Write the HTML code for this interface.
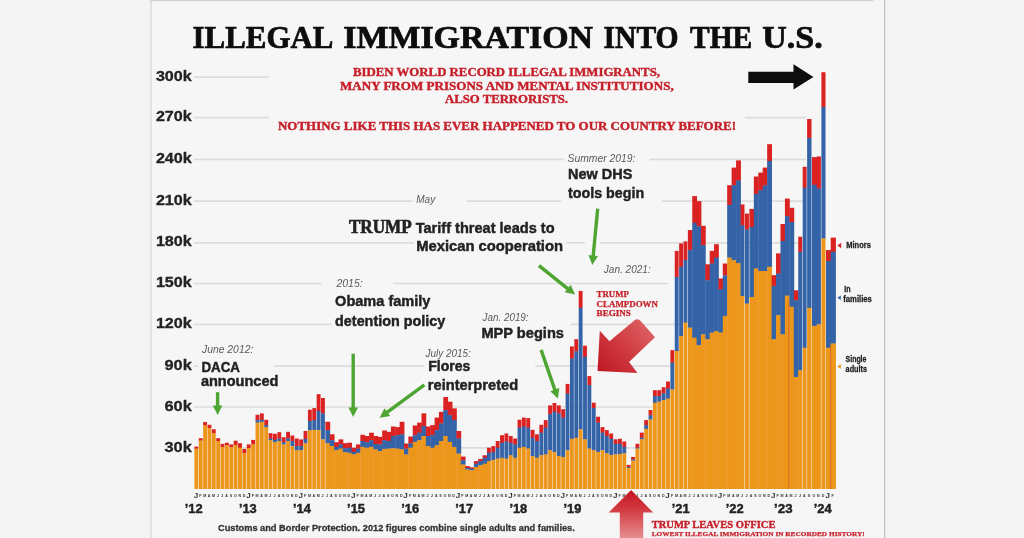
<!DOCTYPE html>
<html><head><meta charset="utf-8"><title>Illegal immigration into the U.S.</title>
<style>
html,body{margin:0;padding:0;background:#f4f4f4;}
body{width:1024px;height:538px;overflow:hidden;position:relative;font-family:"Liberation Sans",sans-serif;}
svg{position:absolute;left:0;top:0;display:block}
.ss{font-family:"Liberation Sans",sans-serif;}
.sf{font-family:"Liberation Serif",serif;}
.b{font-weight:bold}
.i{font-style:italic}
</style></head><body>
<svg width="1024" height="538" viewBox="0 0 1024 538">
<defs><filter id="soft" x="-20" y="-20" width="1064" height="578" filterUnits="userSpaceOnUse"><feGaussianBlur stdDeviation="0.55"/></filter></defs>
<g filter="url(#soft)">
<rect x="-20" y="-20" width="1064" height="578" fill="#f4f4f4"/>
<rect x="151" y="1" width="733" height="560" fill="#f6f6f6"/>
<rect x="150.1" y="-6" width="1.7" height="566" fill="#dedede"/>
<rect x="150" y="-6" width="723" height="7.2" fill="#d2d2d2"/>
<rect x="884" y="-20" width="1.2" height="580" fill="#c2c2c2"/>

<g id="grid" stroke="#dcdcdc" stroke-width="1.7">
<line x1="194" y1="77.2" x2="269" y2="77.2"/>
<line x1="194" y1="117.7" x2="269" y2="117.7"/>
<line x1="745" y1="117.7" x2="806" y2="117.7"/>
<line x1="194" y1="159.4" x2="564.3" y2="159.4"/>
<line x1="649.6" y1="159.4" x2="806" y2="159.4"/>
<line x1="194" y1="201.1" x2="412.4" y2="201.1"/>
<line x1="467" y1="201.1" x2="561" y2="201.1"/>
<line x1="662" y1="201.1" x2="806" y2="201.1"/>
<line x1="194" y1="242.8" x2="413.6" y2="242.8"/>
<line x1="566" y1="242.8" x2="585" y2="242.8"/>
<line x1="600" y1="242.8" x2="806" y2="242.8"/>
<line x1="194" y1="283.5" x2="321.7" y2="283.5"/>
<line x1="392.8" y1="283.5" x2="668" y2="283.5"/>
<line x1="194" y1="324.4" x2="331.7" y2="324.4"/>
<line x1="570.4" y1="324.4" x2="680" y2="324.4"/>
<line x1="194" y1="366.1" x2="198.5" y2="366.1"/>
<line x1="273.7" y1="366.1" x2="424.4" y2="366.1"/>
<line x1="535.3" y1="366.1" x2="676" y2="366.1"/>
<line x1="194" y1="407.0" x2="660" y2="407.0"/>
<line x1="194" y1="447.9" x2="660" y2="447.9"/>
</g>
<g id="bars" shape-rendering="auto">
<rect x="194.40" y="446.6" width="3.87" height="2.3" fill="#DB2020"/>
<rect x="194.40" y="448.6" width="3.87" height="40.4" fill="#EC971F"/>
<rect x="198.77" y="438.2" width="3.87" height="2.6" fill="#DB2020"/>
<rect x="198.77" y="440.5" width="3.87" height="48.5" fill="#EC971F"/>
<rect x="203.13" y="422.1" width="3.87" height="3.6" fill="#DB2020"/>
<rect x="203.13" y="425.5" width="3.87" height="63.5" fill="#EC971F"/>
<rect x="207.50" y="424.8" width="3.87" height="3.6" fill="#DB2020"/>
<rect x="207.50" y="428.2" width="3.87" height="60.8" fill="#EC971F"/>
<rect x="211.87" y="429.3" width="3.87" height="4.1" fill="#DB2020"/>
<rect x="211.87" y="433.2" width="3.87" height="55.8" fill="#EC971F"/>
<rect x="216.24" y="438.2" width="3.87" height="3.1" fill="#DB2020"/>
<rect x="216.24" y="441.0" width="3.87" height="48.0" fill="#EC971F"/>
<rect x="220.60" y="443.9" width="3.87" height="3.3" fill="#DB2020"/>
<rect x="220.60" y="446.9" width="3.87" height="42.1" fill="#EC971F"/>
<rect x="224.97" y="442.7" width="3.87" height="2.8" fill="#DB2020"/>
<rect x="224.97" y="445.2" width="3.87" height="43.8" fill="#EC971F"/>
<rect x="229.34" y="444.4" width="3.87" height="3.1" fill="#DB2020"/>
<rect x="229.34" y="447.2" width="3.87" height="41.8" fill="#EC971F"/>
<rect x="233.70" y="440.7" width="3.87" height="4.5" fill="#DB2020"/>
<rect x="233.70" y="444.9" width="3.87" height="44.1" fill="#EC971F"/>
<rect x="238.07" y="443.2" width="3.87" height="4.8" fill="#DB2020"/>
<rect x="238.07" y="447.7" width="3.87" height="41.3" fill="#EC971F"/>
<rect x="242.44" y="448.9" width="3.87" height="4.7" fill="#DB2020"/>
<rect x="242.44" y="453.3" width="3.87" height="35.7" fill="#EC971F"/>
<rect x="246.80" y="444.4" width="3.87" height="4.1" fill="#DB2020"/>
<rect x="246.80" y="448.2" width="3.87" height="40.8" fill="#EC971F"/>
<rect x="251.17" y="439.9" width="3.87" height="4.8" fill="#DB2020"/>
<rect x="251.17" y="444.4" width="3.87" height="44.6" fill="#EC971F"/>
<rect x="255.54" y="414.8" width="3.87" height="5.7" fill="#DB2020"/>
<rect x="255.54" y="420.1" width="3.87" height="2.8" fill="#3563A8"/>
<rect x="255.54" y="422.6" width="3.87" height="66.4" fill="#EC971F"/>
<rect x="259.90" y="413.4" width="3.87" height="6.7" fill="#DB2020"/>
<rect x="259.90" y="419.8" width="3.87" height="2.3" fill="#3563A8"/>
<rect x="259.90" y="421.8" width="3.87" height="67.2" fill="#EC971F"/>
<rect x="264.27" y="419.8" width="3.87" height="5.7" fill="#DB2020"/>
<rect x="264.27" y="425.1" width="3.87" height="2.3" fill="#3563A8"/>
<rect x="264.27" y="427.1" width="3.87" height="61.9" fill="#EC971F"/>
<rect x="268.64" y="433.2" width="3.87" height="5.7" fill="#DB2020"/>
<rect x="268.64" y="438.5" width="3.87" height="2.0" fill="#3563A8"/>
<rect x="268.64" y="440.2" width="3.87" height="48.8" fill="#EC971F"/>
<rect x="273.01" y="433.8" width="3.87" height="6.3" fill="#DB2020"/>
<rect x="273.01" y="439.9" width="3.87" height="2.6" fill="#3563A8"/>
<rect x="273.01" y="442.2" width="3.87" height="46.8" fill="#EC971F"/>
<rect x="277.37" y="432.2" width="3.87" height="6.7" fill="#DB2020"/>
<rect x="277.37" y="438.5" width="3.87" height="2.8" fill="#3563A8"/>
<rect x="277.37" y="441.0" width="3.87" height="48.0" fill="#EC971F"/>
<rect x="281.74" y="437.2" width="3.87" height="5.3" fill="#DB2020"/>
<rect x="281.74" y="442.2" width="3.87" height="2.5" fill="#3563A8"/>
<rect x="281.74" y="444.4" width="3.87" height="44.6" fill="#EC971F"/>
<rect x="286.11" y="431.8" width="3.87" height="7.0" fill="#DB2020"/>
<rect x="286.11" y="438.5" width="3.87" height="2.8" fill="#3563A8"/>
<rect x="286.11" y="441.0" width="3.87" height="48.0" fill="#EC971F"/>
<rect x="290.47" y="435.5" width="3.87" height="5.8" fill="#DB2020"/>
<rect x="290.47" y="441.0" width="3.87" height="5.3" fill="#3563A8"/>
<rect x="290.47" y="446.1" width="3.87" height="42.9" fill="#EC971F"/>
<rect x="294.84" y="438.5" width="3.87" height="7.8" fill="#DB2020"/>
<rect x="294.84" y="446.1" width="3.87" height="4.5" fill="#3563A8"/>
<rect x="294.84" y="450.2" width="3.87" height="38.8" fill="#EC971F"/>
<rect x="299.21" y="439.4" width="3.87" height="7.0" fill="#DB2020"/>
<rect x="299.21" y="446.1" width="3.87" height="4.5" fill="#3563A8"/>
<rect x="299.21" y="450.2" width="3.87" height="38.8" fill="#EC971F"/>
<rect x="303.57" y="431.0" width="3.87" height="8.2" fill="#DB2020"/>
<rect x="303.57" y="438.9" width="3.87" height="4.7" fill="#3563A8"/>
<rect x="303.57" y="443.2" width="3.87" height="45.8" fill="#EC971F"/>
<rect x="307.94" y="409.7" width="3.87" height="11.5" fill="#DB2020"/>
<rect x="307.94" y="421.0" width="3.87" height="9.5" fill="#3563A8"/>
<rect x="307.94" y="430.2" width="3.87" height="58.8" fill="#EC971F"/>
<rect x="312.31" y="408.1" width="3.87" height="12.3" fill="#DB2020"/>
<rect x="312.31" y="420.1" width="3.87" height="10.0" fill="#3563A8"/>
<rect x="312.31" y="429.8" width="3.87" height="59.2" fill="#EC971F"/>
<rect x="316.68" y="394.2" width="3.87" height="17.0" fill="#DB2020"/>
<rect x="316.68" y="410.9" width="3.87" height="19.5" fill="#3563A8"/>
<rect x="316.68" y="430.2" width="3.87" height="58.8" fill="#EC971F"/>
<rect x="321.04" y="398.0" width="3.87" height="15.7" fill="#DB2020"/>
<rect x="321.04" y="413.4" width="3.87" height="26.2" fill="#3563A8"/>
<rect x="321.04" y="439.4" width="3.87" height="49.6" fill="#EC971F"/>
<rect x="325.41" y="421.8" width="4.77" height="8.7" fill="#DB2020"/>
<rect x="325.41" y="430.2" width="4.77" height="13.4" fill="#3563A8"/>
<rect x="325.41" y="443.2" width="4.77" height="45.8" fill="#EC971F"/>
<rect x="329.78" y="434.3" width="4.77" height="6.2" fill="#DB2020"/>
<rect x="329.78" y="440.2" width="4.77" height="6.2" fill="#3563A8"/>
<rect x="329.78" y="446.1" width="4.77" height="42.9" fill="#EC971F"/>
<rect x="334.14" y="442.2" width="4.77" height="5.0" fill="#DB2020"/>
<rect x="334.14" y="446.9" width="4.77" height="3.6" fill="#3563A8"/>
<rect x="334.14" y="450.2" width="4.77" height="38.8" fill="#EC971F"/>
<rect x="338.51" y="439.4" width="4.77" height="5.3" fill="#DB2020"/>
<rect x="338.51" y="444.4" width="4.77" height="4.5" fill="#3563A8"/>
<rect x="338.51" y="448.6" width="4.77" height="40.4" fill="#EC971F"/>
<rect x="342.88" y="443.2" width="4.77" height="5.3" fill="#DB2020"/>
<rect x="342.88" y="448.2" width="4.77" height="4.3" fill="#3563A8"/>
<rect x="342.88" y="452.2" width="4.77" height="36.8" fill="#EC971F"/>
<rect x="347.25" y="442.7" width="4.77" height="5.3" fill="#DB2020"/>
<rect x="347.25" y="447.7" width="4.77" height="5.3" fill="#3563A8"/>
<rect x="347.25" y="452.8" width="4.77" height="36.2" fill="#EC971F"/>
<rect x="351.61" y="447.7" width="4.77" height="4.5" fill="#DB2020"/>
<rect x="351.61" y="451.9" width="4.77" height="2.8" fill="#3563A8"/>
<rect x="351.61" y="454.4" width="4.77" height="34.6" fill="#EC971F"/>
<rect x="355.98" y="444.4" width="4.77" height="4.5" fill="#DB2020"/>
<rect x="355.98" y="448.6" width="4.77" height="4.5" fill="#3563A8"/>
<rect x="355.98" y="452.8" width="4.77" height="36.2" fill="#EC971F"/>
<rect x="360.35" y="434.8" width="4.77" height="6.5" fill="#DB2020"/>
<rect x="360.35" y="441.0" width="4.77" height="6.2" fill="#3563A8"/>
<rect x="360.35" y="446.9" width="4.77" height="42.1" fill="#EC971F"/>
<rect x="364.71" y="436.0" width="4.77" height="6.5" fill="#DB2020"/>
<rect x="364.71" y="442.2" width="4.77" height="5.8" fill="#3563A8"/>
<rect x="364.71" y="447.7" width="4.77" height="41.3" fill="#EC971F"/>
<rect x="369.08" y="432.7" width="4.77" height="7.8" fill="#DB2020"/>
<rect x="369.08" y="440.2" width="4.77" height="7.0" fill="#3563A8"/>
<rect x="369.08" y="446.9" width="4.77" height="42.1" fill="#EC971F"/>
<rect x="373.45" y="436.0" width="4.77" height="8.2" fill="#DB2020"/>
<rect x="373.45" y="443.9" width="4.77" height="5.8" fill="#3563A8"/>
<rect x="373.45" y="449.4" width="4.77" height="39.6" fill="#EC971F"/>
<rect x="377.81" y="436.9" width="4.77" height="7.8" fill="#DB2020"/>
<rect x="377.81" y="444.4" width="4.77" height="7.0" fill="#3563A8"/>
<rect x="377.81" y="451.1" width="4.77" height="37.9" fill="#EC971F"/>
<rect x="382.18" y="430.5" width="4.77" height="10.0" fill="#DB2020"/>
<rect x="382.18" y="440.2" width="4.77" height="9.0" fill="#3563A8"/>
<rect x="382.18" y="448.9" width="4.77" height="40.1" fill="#EC971F"/>
<rect x="386.55" y="431.8" width="4.77" height="9.5" fill="#DB2020"/>
<rect x="386.55" y="441.0" width="4.77" height="7.8" fill="#3563A8"/>
<rect x="386.55" y="448.6" width="4.77" height="40.4" fill="#EC971F"/>
<rect x="390.91" y="426.5" width="4.77" height="9.8" fill="#DB2020"/>
<rect x="390.91" y="436.0" width="4.77" height="12.5" fill="#3563A8"/>
<rect x="390.91" y="448.2" width="4.77" height="40.8" fill="#EC971F"/>
<rect x="395.28" y="427.1" width="4.77" height="8.3" fill="#DB2020"/>
<rect x="395.28" y="435.2" width="4.77" height="13.7" fill="#3563A8"/>
<rect x="395.28" y="448.6" width="4.77" height="40.4" fill="#EC971F"/>
<rect x="399.65" y="421.8" width="4.77" height="12.9" fill="#DB2020"/>
<rect x="399.65" y="434.3" width="4.77" height="15.4" fill="#3563A8"/>
<rect x="399.65" y="449.4" width="4.77" height="39.6" fill="#EC971F"/>
<rect x="404.02" y="443.5" width="4.77" height="5.3" fill="#DB2020"/>
<rect x="404.02" y="448.6" width="4.77" height="6.2" fill="#3563A8"/>
<rect x="404.02" y="454.4" width="4.77" height="34.6" fill="#EC971F"/>
<rect x="408.38" y="436.5" width="4.77" height="7.0" fill="#DB2020"/>
<rect x="408.38" y="443.2" width="4.77" height="4.8" fill="#3563A8"/>
<rect x="408.38" y="447.7" width="4.77" height="41.3" fill="#EC971F"/>
<rect x="412.75" y="425.5" width="4.77" height="10.0" fill="#DB2020"/>
<rect x="412.75" y="435.2" width="4.77" height="7.0" fill="#3563A8"/>
<rect x="412.75" y="441.9" width="4.77" height="47.1" fill="#EC971F"/>
<rect x="417.12" y="422.6" width="4.77" height="10.3" fill="#DB2020"/>
<rect x="417.12" y="432.7" width="4.77" height="7.8" fill="#3563A8"/>
<rect x="417.12" y="440.2" width="4.77" height="48.8" fill="#EC971F"/>
<rect x="421.48" y="413.4" width="4.77" height="12.9" fill="#DB2020"/>
<rect x="421.48" y="426.0" width="4.77" height="10.3" fill="#3563A8"/>
<rect x="421.48" y="436.0" width="4.77" height="53.0" fill="#EC971F"/>
<rect x="425.85" y="426.5" width="4.77" height="9.8" fill="#DB2020"/>
<rect x="425.85" y="436.0" width="4.77" height="10.3" fill="#3563A8"/>
<rect x="425.85" y="446.1" width="4.77" height="42.9" fill="#EC971F"/>
<rect x="430.22" y="425.1" width="4.77" height="10.3" fill="#DB2020"/>
<rect x="430.22" y="435.2" width="4.77" height="12.9" fill="#3563A8"/>
<rect x="430.22" y="447.7" width="4.77" height="41.3" fill="#EC971F"/>
<rect x="434.59" y="417.6" width="4.77" height="12.9" fill="#DB2020"/>
<rect x="434.59" y="430.2" width="4.77" height="15.4" fill="#3563A8"/>
<rect x="434.59" y="445.2" width="4.77" height="43.8" fill="#EC971F"/>
<rect x="438.95" y="411.8" width="4.77" height="12.0" fill="#DB2020"/>
<rect x="438.95" y="423.5" width="4.77" height="17.9" fill="#3563A8"/>
<rect x="438.95" y="441.0" width="4.77" height="48.0" fill="#EC971F"/>
<rect x="443.32" y="397.0" width="4.77" height="13.4" fill="#DB2020"/>
<rect x="443.32" y="410.1" width="4.77" height="26.2" fill="#3563A8"/>
<rect x="443.32" y="436.0" width="4.77" height="53.0" fill="#EC971F"/>
<rect x="447.69" y="401.7" width="4.77" height="13.7" fill="#DB2020"/>
<rect x="447.69" y="415.1" width="4.77" height="27.1" fill="#3563A8"/>
<rect x="447.69" y="441.9" width="4.77" height="47.1" fill="#EC971F"/>
<rect x="452.05" y="408.4" width="4.77" height="12.0" fill="#DB2020"/>
<rect x="452.05" y="420.1" width="4.77" height="27.1" fill="#3563A8"/>
<rect x="452.05" y="446.9" width="4.77" height="42.1" fill="#EC971F"/>
<rect x="456.42" y="431.0" width="4.77" height="7.8" fill="#DB2020"/>
<rect x="456.42" y="438.5" width="4.77" height="15.4" fill="#3563A8"/>
<rect x="456.42" y="453.6" width="4.77" height="35.4" fill="#EC971F"/>
<rect x="460.79" y="456.6" width="4.77" height="4.0" fill="#DB2020"/>
<rect x="460.79" y="460.3" width="4.77" height="4.5" fill="#3563A8"/>
<rect x="460.79" y="464.5" width="4.77" height="24.5" fill="#EC971F"/>
<rect x="465.15" y="466.1" width="4.77" height="2.0" fill="#DB2020"/>
<rect x="465.15" y="467.8" width="4.77" height="2.0" fill="#3563A8"/>
<rect x="465.15" y="469.5" width="4.77" height="19.5" fill="#EC971F"/>
<rect x="469.52" y="467.3" width="4.77" height="1.6" fill="#DB2020"/>
<rect x="469.52" y="468.6" width="4.77" height="2.0" fill="#3563A8"/>
<rect x="469.52" y="470.3" width="4.77" height="18.7" fill="#EC971F"/>
<rect x="473.89" y="461.1" width="4.77" height="2.8" fill="#DB2020"/>
<rect x="473.89" y="463.6" width="4.77" height="3.6" fill="#3563A8"/>
<rect x="473.89" y="467.0" width="4.77" height="22.0" fill="#EC971F"/>
<rect x="478.25" y="458.9" width="4.77" height="2.5" fill="#DB2020"/>
<rect x="478.25" y="461.1" width="4.77" height="4.5" fill="#3563A8"/>
<rect x="478.25" y="465.3" width="4.77" height="23.7" fill="#EC971F"/>
<rect x="482.62" y="455.3" width="4.77" height="2.8" fill="#DB2020"/>
<rect x="482.62" y="457.8" width="4.77" height="6.2" fill="#3563A8"/>
<rect x="482.62" y="463.6" width="4.77" height="25.4" fill="#EC971F"/>
<rect x="486.99" y="447.7" width="3.87" height="5.3" fill="#DB2020"/>
<rect x="486.99" y="452.8" width="3.87" height="8.7" fill="#3563A8"/>
<rect x="486.99" y="461.1" width="3.87" height="27.9" fill="#EC971F"/>
<rect x="491.36" y="446.1" width="3.87" height="6.2" fill="#DB2020"/>
<rect x="491.36" y="451.9" width="3.87" height="8.3" fill="#3563A8"/>
<rect x="491.36" y="459.9" width="3.87" height="29.1" fill="#EC971F"/>
<rect x="495.72" y="441.0" width="3.87" height="7.0" fill="#DB2020"/>
<rect x="495.72" y="447.7" width="3.87" height="11.2" fill="#3563A8"/>
<rect x="495.72" y="458.6" width="3.87" height="30.4" fill="#EC971F"/>
<rect x="500.09" y="435.2" width="3.87" height="7.8" fill="#DB2020"/>
<rect x="500.09" y="442.7" width="3.87" height="15.4" fill="#3563A8"/>
<rect x="500.09" y="457.8" width="3.87" height="31.2" fill="#EC971F"/>
<rect x="504.46" y="433.5" width="3.87" height="8.3" fill="#DB2020"/>
<rect x="504.46" y="441.5" width="3.87" height="17.4" fill="#3563A8"/>
<rect x="504.46" y="458.6" width="3.87" height="30.4" fill="#EC971F"/>
<rect x="508.82" y="436.0" width="3.87" height="7.0" fill="#DB2020"/>
<rect x="508.82" y="442.7" width="3.87" height="12.9" fill="#3563A8"/>
<rect x="508.82" y="455.2" width="3.87" height="33.8" fill="#EC971F"/>
<rect x="513.19" y="438.5" width="3.87" height="6.2" fill="#DB2020"/>
<rect x="513.19" y="444.3" width="3.87" height="13.7" fill="#3563A8"/>
<rect x="513.19" y="457.7" width="3.87" height="31.3" fill="#EC971F"/>
<rect x="517.56" y="419.7" width="3.87" height="8.2" fill="#DB2020"/>
<rect x="517.56" y="427.6" width="3.87" height="20.4" fill="#3563A8"/>
<rect x="517.56" y="447.7" width="3.87" height="41.3" fill="#EC971F"/>
<rect x="521.92" y="417.6" width="3.87" height="9.2" fill="#DB2020"/>
<rect x="521.92" y="426.4" width="3.87" height="20.7" fill="#3563A8"/>
<rect x="521.92" y="446.9" width="3.87" height="42.1" fill="#EC971F"/>
<rect x="526.29" y="418.1" width="3.87" height="9.8" fill="#DB2020"/>
<rect x="526.29" y="427.6" width="3.87" height="21.2" fill="#3563A8"/>
<rect x="526.29" y="448.5" width="3.87" height="40.5" fill="#EC971F"/>
<rect x="530.66" y="429.8" width="3.87" height="8.2" fill="#DB2020"/>
<rect x="530.66" y="437.7" width="3.87" height="18.7" fill="#3563A8"/>
<rect x="530.66" y="456.1" width="3.87" height="32.9" fill="#EC971F"/>
<rect x="535.03" y="434.3" width="3.87" height="7.0" fill="#DB2020"/>
<rect x="535.03" y="441.0" width="3.87" height="17.0" fill="#3563A8"/>
<rect x="535.03" y="457.7" width="3.87" height="31.3" fill="#EC971F"/>
<rect x="539.39" y="424.8" width="3.87" height="8.2" fill="#DB2020"/>
<rect x="539.39" y="432.6" width="3.87" height="22.9" fill="#3563A8"/>
<rect x="539.39" y="455.2" width="3.87" height="33.8" fill="#EC971F"/>
<rect x="543.76" y="420.1" width="3.87" height="7.8" fill="#DB2020"/>
<rect x="543.76" y="427.6" width="3.87" height="27.1" fill="#3563A8"/>
<rect x="543.76" y="454.4" width="3.87" height="34.6" fill="#EC971F"/>
<rect x="548.13" y="405.4" width="3.87" height="9.2" fill="#DB2020"/>
<rect x="548.13" y="414.2" width="3.87" height="36.3" fill="#3563A8"/>
<rect x="548.13" y="450.2" width="3.87" height="38.8" fill="#EC971F"/>
<rect x="552.49" y="403.0" width="3.87" height="9.0" fill="#DB2020"/>
<rect x="552.49" y="411.7" width="3.87" height="40.5" fill="#3563A8"/>
<rect x="552.49" y="451.9" width="3.87" height="37.1" fill="#EC971F"/>
<rect x="556.86" y="405.4" width="3.87" height="8.3" fill="#DB2020"/>
<rect x="556.86" y="413.4" width="3.87" height="43.0" fill="#3563A8"/>
<rect x="556.86" y="456.1" width="3.87" height="32.9" fill="#EC971F"/>
<rect x="561.23" y="409.2" width="3.87" height="8.7" fill="#DB2020"/>
<rect x="561.23" y="417.6" width="3.87" height="39.6" fill="#3563A8"/>
<rect x="561.23" y="456.9" width="3.87" height="32.1" fill="#EC971F"/>
<rect x="565.60" y="383.9" width="3.87" height="9.9" fill="#DB2020"/>
<rect x="565.60" y="393.5" width="3.87" height="57.0" fill="#3563A8"/>
<rect x="565.60" y="450.2" width="3.87" height="38.8" fill="#EC971F"/>
<rect x="569.96" y="346.4" width="3.87" height="12.4" fill="#DB2020"/>
<rect x="569.96" y="358.5" width="3.87" height="80.6" fill="#3563A8"/>
<rect x="569.96" y="438.8" width="3.87" height="50.2" fill="#EC971F"/>
<rect x="574.33" y="339.2" width="3.87" height="12.4" fill="#DB2020"/>
<rect x="574.33" y="351.3" width="3.87" height="86.7" fill="#3563A8"/>
<rect x="574.33" y="437.7" width="3.87" height="51.3" fill="#EC971F"/>
<rect x="578.70" y="290.9" width="3.87" height="17.2" fill="#DB2020"/>
<rect x="578.70" y="307.8" width="3.87" height="121.8" fill="#3563A8"/>
<rect x="578.70" y="429.3" width="3.87" height="59.7" fill="#EC971F"/>
<rect x="583.06" y="345.7" width="3.87" height="11.4" fill="#DB2020"/>
<rect x="583.06" y="356.8" width="3.87" height="82.8" fill="#3563A8"/>
<rect x="583.06" y="439.3" width="3.87" height="49.7" fill="#EC971F"/>
<rect x="587.43" y="376.1" width="3.87" height="9.3" fill="#DB2020"/>
<rect x="587.43" y="385.1" width="3.87" height="63.7" fill="#3563A8"/>
<rect x="587.43" y="448.5" width="3.87" height="40.5" fill="#EC971F"/>
<rect x="591.80" y="402.7" width="3.87" height="5.6" fill="#DB2020"/>
<rect x="591.80" y="408.0" width="3.87" height="42.5" fill="#3563A8"/>
<rect x="591.80" y="450.2" width="3.87" height="38.8" fill="#EC971F"/>
<rect x="596.16" y="416.7" width="3.87" height="6.2" fill="#DB2020"/>
<rect x="596.16" y="422.6" width="3.87" height="29.6" fill="#3563A8"/>
<rect x="596.16" y="451.9" width="3.87" height="37.1" fill="#EC971F"/>
<rect x="600.53" y="427.1" width="3.87" height="5.8" fill="#DB2020"/>
<rect x="600.53" y="432.6" width="3.87" height="17.9" fill="#3563A8"/>
<rect x="600.53" y="450.2" width="3.87" height="38.8" fill="#EC971F"/>
<rect x="604.90" y="430.1" width="3.87" height="6.2" fill="#DB2020"/>
<rect x="604.90" y="436.0" width="3.87" height="17.5" fill="#3563A8"/>
<rect x="604.90" y="453.2" width="3.87" height="35.8" fill="#EC971F"/>
<rect x="609.26" y="433.5" width="3.87" height="5.7" fill="#DB2020"/>
<rect x="609.26" y="438.8" width="3.87" height="16.4" fill="#3563A8"/>
<rect x="609.26" y="454.9" width="3.87" height="34.1" fill="#EC971F"/>
<rect x="613.63" y="439.3" width="3.87" height="4.8" fill="#DB2020"/>
<rect x="613.63" y="443.8" width="3.87" height="10.8" fill="#3563A8"/>
<rect x="613.63" y="454.4" width="3.87" height="34.6" fill="#EC971F"/>
<rect x="618.00" y="438.8" width="3.87" height="5.3" fill="#DB2020"/>
<rect x="618.00" y="443.8" width="3.87" height="10.3" fill="#3563A8"/>
<rect x="618.00" y="453.9" width="3.87" height="35.1" fill="#EC971F"/>
<rect x="622.37" y="441.5" width="3.87" height="5.7" fill="#DB2020"/>
<rect x="622.37" y="446.9" width="3.87" height="6.7" fill="#3563A8"/>
<rect x="622.37" y="453.2" width="3.87" height="35.8" fill="#EC971F"/>
<rect x="626.73" y="464.9" width="3.87" height="2.3" fill="#DB2020"/>
<rect x="626.73" y="466.9" width="3.87" height="1.1" fill="#3563A8"/>
<rect x="626.73" y="467.8" width="3.87" height="21.2" fill="#EC971F"/>
<rect x="631.10" y="456.9" width="3.87" height="2.8" fill="#DB2020"/>
<rect x="631.10" y="459.4" width="3.87" height="1.5" fill="#3563A8"/>
<rect x="631.10" y="460.6" width="3.87" height="28.4" fill="#EC971F"/>
<rect x="635.47" y="443.8" width="3.87" height="4.1" fill="#DB2020"/>
<rect x="635.47" y="447.7" width="3.87" height="1.1" fill="#3563A8"/>
<rect x="635.47" y="448.5" width="3.87" height="40.5" fill="#EC971F"/>
<rect x="639.83" y="432.6" width="3.87" height="5.3" fill="#DB2020"/>
<rect x="639.83" y="437.7" width="3.87" height="2.0" fill="#3563A8"/>
<rect x="639.83" y="439.3" width="3.87" height="49.7" fill="#EC971F"/>
<rect x="644.20" y="420.1" width="3.87" height="5.3" fill="#DB2020"/>
<rect x="644.20" y="425.1" width="3.87" height="4.0" fill="#3563A8"/>
<rect x="644.20" y="428.8" width="3.87" height="60.2" fill="#EC971F"/>
<rect x="648.57" y="410.0" width="3.87" height="5.6" fill="#DB2020"/>
<rect x="648.57" y="415.3" width="3.87" height="4.5" fill="#3563A8"/>
<rect x="648.57" y="419.5" width="3.87" height="69.5" fill="#EC971F"/>
<rect x="652.94" y="390.2" width="3.87" height="6.2" fill="#DB2020"/>
<rect x="652.94" y="396.1" width="3.87" height="7.0" fill="#3563A8"/>
<rect x="652.94" y="402.8" width="3.87" height="86.2" fill="#EC971F"/>
<rect x="657.30" y="390.2" width="3.87" height="6.2" fill="#DB2020"/>
<rect x="657.30" y="396.1" width="3.87" height="5.8" fill="#3563A8"/>
<rect x="657.30" y="401.6" width="3.87" height="87.4" fill="#EC971F"/>
<rect x="661.67" y="387.2" width="3.87" height="6.4" fill="#DB2020"/>
<rect x="661.67" y="393.3" width="3.87" height="7.0" fill="#3563A8"/>
<rect x="661.67" y="400.0" width="3.87" height="89.0" fill="#EC971F"/>
<rect x="666.04" y="381.5" width="3.87" height="7.4" fill="#DB2020"/>
<rect x="666.04" y="388.6" width="3.87" height="10.3" fill="#3563A8"/>
<rect x="666.04" y="398.6" width="3.87" height="90.4" fill="#EC971F"/>
<rect x="670.40" y="350.1" width="3.87" height="12.8" fill="#DB2020"/>
<rect x="670.40" y="362.6" width="3.87" height="27.1" fill="#3563A8"/>
<rect x="670.40" y="389.4" width="3.87" height="99.6" fill="#EC971F"/>
<rect x="674.77" y="250.9" width="3.87" height="26.3" fill="#DB2020"/>
<rect x="674.77" y="276.9" width="3.87" height="74.4" fill="#3563A8"/>
<rect x="674.77" y="351.0" width="3.87" height="138.0" fill="#EC971F"/>
<rect x="679.14" y="243.4" width="3.87" height="23.7" fill="#DB2020"/>
<rect x="679.14" y="266.8" width="3.87" height="69.5" fill="#3563A8"/>
<rect x="679.14" y="336.0" width="3.87" height="153.0" fill="#EC971F"/>
<rect x="683.50" y="241.4" width="3.87" height="19.0" fill="#DB2020"/>
<rect x="683.50" y="260.1" width="3.87" height="62.8" fill="#3563A8"/>
<rect x="683.50" y="322.6" width="3.87" height="166.4" fill="#EC971F"/>
<rect x="687.87" y="230.0" width="4.77" height="20.4" fill="#DB2020"/>
<rect x="687.87" y="250.1" width="4.77" height="77.8" fill="#3563A8"/>
<rect x="687.87" y="327.6" width="4.77" height="161.4" fill="#EC971F"/>
<rect x="692.24" y="196.1" width="4.77" height="27.0" fill="#DB2020"/>
<rect x="692.24" y="222.8" width="4.77" height="115.2" fill="#3563A8"/>
<rect x="692.24" y="337.7" width="4.77" height="151.3" fill="#EC971F"/>
<rect x="696.61" y="201.1" width="4.77" height="25.4" fill="#DB2020"/>
<rect x="696.61" y="226.2" width="4.77" height="119.3" fill="#3563A8"/>
<rect x="696.61" y="345.2" width="4.77" height="143.8" fill="#EC971F"/>
<rect x="700.97" y="225.8" width="4.77" height="19.6" fill="#DB2020"/>
<rect x="700.97" y="245.1" width="4.77" height="89.5" fill="#3563A8"/>
<rect x="700.97" y="334.3" width="4.77" height="154.7" fill="#EC971F"/>
<rect x="705.34" y="264.3" width="4.77" height="16.2" fill="#DB2020"/>
<rect x="705.34" y="280.2" width="4.77" height="59.4" fill="#3563A8"/>
<rect x="705.34" y="339.3" width="4.77" height="149.7" fill="#EC971F"/>
<rect x="709.71" y="250.9" width="4.77" height="12.9" fill="#DB2020"/>
<rect x="709.71" y="263.5" width="4.77" height="69.4" fill="#3563A8"/>
<rect x="709.71" y="332.6" width="4.77" height="156.4" fill="#EC971F"/>
<rect x="714.07" y="244.2" width="4.77" height="13.7" fill="#DB2020"/>
<rect x="714.07" y="257.6" width="4.77" height="73.7" fill="#3563A8"/>
<rect x="714.07" y="331.0" width="4.77" height="158.0" fill="#EC971F"/>
<rect x="718.44" y="278.5" width="4.77" height="11.2" fill="#DB2020"/>
<rect x="718.44" y="289.4" width="4.77" height="43.5" fill="#3563A8"/>
<rect x="718.44" y="332.6" width="4.77" height="156.4" fill="#EC971F"/>
<rect x="722.81" y="263.5" width="4.77" height="12.0" fill="#DB2020"/>
<rect x="722.81" y="275.2" width="4.77" height="41.0" fill="#3563A8"/>
<rect x="722.81" y="315.9" width="4.77" height="173.1" fill="#EC971F"/>
<rect x="727.17" y="185.2" width="4.87" height="20.0" fill="#DB2020"/>
<rect x="727.17" y="204.9" width="4.87" height="53.0" fill="#3563A8"/>
<rect x="727.17" y="257.6" width="4.87" height="231.4" fill="#EC971F"/>
<rect x="731.64" y="167.6" width="4.84" height="17.9" fill="#DB2020"/>
<rect x="731.64" y="185.2" width="4.84" height="75.2" fill="#3563A8"/>
<rect x="731.64" y="260.1" width="4.84" height="228.9" fill="#EC971F"/>
<rect x="736.08" y="160.4" width="4.84" height="20.4" fill="#DB2020"/>
<rect x="736.08" y="180.5" width="4.84" height="83.0" fill="#3563A8"/>
<rect x="736.08" y="263.2" width="4.84" height="225.8" fill="#EC971F"/>
<rect x="740.52" y="204.4" width="3.94" height="21.2" fill="#DB2020"/>
<rect x="740.52" y="225.3" width="3.94" height="71.1" fill="#3563A8"/>
<rect x="740.52" y="296.1" width="3.94" height="192.9" fill="#EC971F"/>
<rect x="744.96" y="213.6" width="3.94" height="16.2" fill="#DB2020"/>
<rect x="744.96" y="229.5" width="3.94" height="74.4" fill="#3563A8"/>
<rect x="744.96" y="303.6" width="3.94" height="185.4" fill="#EC971F"/>
<rect x="749.40" y="208.9" width="4.84" height="18.4" fill="#DB2020"/>
<rect x="749.40" y="227.0" width="4.84" height="70.3" fill="#3563A8"/>
<rect x="749.40" y="297.0" width="4.84" height="192.0" fill="#EC971F"/>
<rect x="753.84" y="176.5" width="4.84" height="17.7" fill="#DB2020"/>
<rect x="753.84" y="193.9" width="4.84" height="74.9" fill="#3563A8"/>
<rect x="753.84" y="268.5" width="4.84" height="220.5" fill="#EC971F"/>
<rect x="758.28" y="172.6" width="4.84" height="17.9" fill="#DB2020"/>
<rect x="758.28" y="190.2" width="4.84" height="81.1" fill="#3563A8"/>
<rect x="758.28" y="271.0" width="4.84" height="218.0" fill="#EC971F"/>
<rect x="762.72" y="167.6" width="4.84" height="18.2" fill="#DB2020"/>
<rect x="762.72" y="185.5" width="4.84" height="85.8" fill="#3563A8"/>
<rect x="762.72" y="271.0" width="4.84" height="218.0" fill="#EC971F"/>
<rect x="767.16" y="144.2" width="4.84" height="17.0" fill="#DB2020"/>
<rect x="767.16" y="160.9" width="4.84" height="106.2" fill="#3563A8"/>
<rect x="767.16" y="266.8" width="4.84" height="222.2" fill="#EC971F"/>
<rect x="771.60" y="275.2" width="4.84" height="11.2" fill="#DB2020"/>
<rect x="771.60" y="286.1" width="4.84" height="53.5" fill="#3563A8"/>
<rect x="771.60" y="339.3" width="4.84" height="149.7" fill="#EC971F"/>
<rect x="776.04" y="253.4" width="4.84" height="20.4" fill="#DB2020"/>
<rect x="776.04" y="273.5" width="4.84" height="41.9" fill="#3563A8"/>
<rect x="776.04" y="315.1" width="4.84" height="173.9" fill="#EC971F"/>
<rect x="780.48" y="224.0" width="4.84" height="17.2" fill="#DB2020"/>
<rect x="780.48" y="240.9" width="4.84" height="93.7" fill="#3563A8"/>
<rect x="780.48" y="334.3" width="4.84" height="154.7" fill="#EC971F"/>
<rect x="784.92" y="198.6" width="4.84" height="17.8" fill="#DB2020"/>
<rect x="784.92" y="216.1" width="4.84" height="79.8" fill="#3563A8"/>
<rect x="784.92" y="295.6" width="4.84" height="193.4" fill="#EC971F"/>
<rect x="789.36" y="207.8" width="4.84" height="14.5" fill="#DB2020"/>
<rect x="789.36" y="222.0" width="4.84" height="85.0" fill="#3563A8"/>
<rect x="789.36" y="306.7" width="4.84" height="182.3" fill="#EC971F"/>
<rect x="793.80" y="290.3" width="4.84" height="10.3" fill="#DB2020"/>
<rect x="793.80" y="300.3" width="4.84" height="77.0" fill="#3563A8"/>
<rect x="793.80" y="377.0" width="4.84" height="112.0" fill="#EC971F"/>
<rect x="798.24" y="236.7" width="3.94" height="15.4" fill="#DB2020"/>
<rect x="798.24" y="251.8" width="3.94" height="118.8" fill="#3563A8"/>
<rect x="798.24" y="370.3" width="3.94" height="118.7" fill="#EC971F"/>
<rect x="802.68" y="166.8" width="3.94" height="21.2" fill="#DB2020"/>
<rect x="802.68" y="187.7" width="3.94" height="160.3" fill="#3563A8"/>
<rect x="802.68" y="347.7" width="3.94" height="141.3" fill="#EC971F"/>
<rect x="807.12" y="119.0" width="4.38" height="19.3" fill="#DB2020"/>
<rect x="807.12" y="138.0" width="4.38" height="170.1" fill="#3563A8"/>
<rect x="807.12" y="307.8" width="4.38" height="181.2" fill="#EC971F"/>
<rect x="812.00" y="157.1" width="5.10" height="28.0" fill="#DB2020"/>
<rect x="812.00" y="184.8" width="5.10" height="141.4" fill="#3563A8"/>
<rect x="812.00" y="325.9" width="5.10" height="163.1" fill="#EC971F"/>
<rect x="816.70" y="156.4" width="4.20" height="32.4" fill="#DB2020"/>
<rect x="816.70" y="188.5" width="4.20" height="136.1" fill="#3563A8"/>
<rect x="816.70" y="324.3" width="4.20" height="164.7" fill="#EC971F"/>
<rect x="821.40" y="72.2" width="4.10" height="35.1" fill="#DB2020"/>
<rect x="821.40" y="107.0" width="4.10" height="131.7" fill="#3563A8"/>
<rect x="821.40" y="238.4" width="4.10" height="250.6" fill="#EC971F"/>
<rect x="826.00" y="250.1" width="5.10" height="11.2" fill="#DB2020"/>
<rect x="826.00" y="261.0" width="5.10" height="87.0" fill="#3563A8"/>
<rect x="826.00" y="347.7" width="5.10" height="141.3" fill="#EC971F"/>
<rect x="830.70" y="237.6" width="5.20" height="14.5" fill="#DB2020"/>
<rect x="830.70" y="251.8" width="5.20" height="92.0" fill="#3563A8"/>
<rect x="830.70" y="343.5" width="5.20" height="145.5" fill="#EC971F"/>
<rect x="788.4" y="300" width="1" height="189" fill="#d9661c"/>
<rect x="830.2" y="346" width="1" height="143" fill="#d9661c"/>
</g>
<text x="192.6" y="48.2" class="sf b" font-size="31.5" fill="#0a0a0a" textLength="140.8" lengthAdjust="spacingAndGlyphs" stroke="#0a0a0a" stroke-width="0.7">ILLEGAL</text>
<text x="343.3" y="48.2" class="sf b" font-size="31.5" fill="#0a0a0a" textLength="249.7" lengthAdjust="spacingAndGlyphs" stroke="#0a0a0a" stroke-width="0.7">IMMIGRATION</text>
<text x="603.6" y="48.2" class="sf b" font-size="31.5" fill="#0a0a0a" textLength="75.0" lengthAdjust="spacingAndGlyphs" stroke="#0a0a0a" stroke-width="0.7">INTO</text>
<text x="690.0" y="48.2" class="sf b" font-size="31.5" fill="#0a0a0a" textLength="62.3" lengthAdjust="spacingAndGlyphs" stroke="#0a0a0a" stroke-width="0.7">THE</text>
<text x="762.3" y="48.2" class="sf b" font-size="31.5" fill="#0a0a0a" textLength="60.4" lengthAdjust="spacingAndGlyphs" stroke="#0a0a0a" stroke-width="0.7">U.S.</text>
<text x="353.0" y="75.5" class="sf b" font-size="11.6" fill="#c7202b" textLength="307.0" lengthAdjust="spacingAndGlyphs" stroke="#c7202b" stroke-width="0.4">BIDEN WORLD RECORD ILLEGAL IMMIGRANTS,</text>
<text x="340.0" y="89.5" class="sf b" font-size="11.6" fill="#c7202b" textLength="333.7" lengthAdjust="spacingAndGlyphs" stroke="#c7202b" stroke-width="0.4">MANY FROM PRISONS AND MENTAL INSTITUTIONS,</text>
<text x="445.0" y="102.5" class="sf b" font-size="11.6" fill="#c7202b" textLength="123.0" lengthAdjust="spacingAndGlyphs" stroke="#c7202b" stroke-width="0.4">ALSO TERRORISTS.</text>
<text x="278.0" y="130.0" class="sf b" font-size="11.6" fill="#c7202b" textLength="458.0" lengthAdjust="spacingAndGlyphs" stroke="#c7202b" stroke-width="0.4">NOTHING LIKE THIS HAS EVER HAPPENED TO OUR COUNTRY BEFORE!</text>
<text x="164.5" y="451.5" class="ss b" font-size="14.6" fill="#222" textLength="27.3" lengthAdjust="spacingAndGlyphs" stroke="#222" stroke-width="0.3">30k</text>
<text x="164.5" y="410.6" class="ss b" font-size="14.6" fill="#222" textLength="27.3" lengthAdjust="spacingAndGlyphs" stroke="#222" stroke-width="0.3">60k</text>
<text x="164.5" y="369.7" class="ss b" font-size="14.6" fill="#222" textLength="27.3" lengthAdjust="spacingAndGlyphs" stroke="#222" stroke-width="0.3">90k</text>
<text x="155.9" y="328.0" class="ss b" font-size="14.6" fill="#222" textLength="35.9" lengthAdjust="spacingAndGlyphs" stroke="#222" stroke-width="0.3">120k</text>
<text x="155.9" y="287.1" class="ss b" font-size="14.6" fill="#222" textLength="35.9" lengthAdjust="spacingAndGlyphs" stroke="#222" stroke-width="0.3">150k</text>
<text x="155.9" y="246.4" class="ss b" font-size="14.6" fill="#222" textLength="35.9" lengthAdjust="spacingAndGlyphs" stroke="#222" stroke-width="0.3">180k</text>
<text x="155.9" y="204.7" class="ss b" font-size="14.6" fill="#222" textLength="35.9" lengthAdjust="spacingAndGlyphs" stroke="#222" stroke-width="0.3">210k</text>
<text x="155.9" y="163.0" class="ss b" font-size="14.6" fill="#222" textLength="35.9" lengthAdjust="spacingAndGlyphs" stroke="#222" stroke-width="0.3">240k</text>
<text x="155.9" y="121.3" class="ss b" font-size="14.6" fill="#222" textLength="35.9" lengthAdjust="spacingAndGlyphs" stroke="#222" stroke-width="0.3">270k</text>
<text x="155.9" y="80.8" class="ss b" font-size="14.6" fill="#222" textLength="35.9" lengthAdjust="spacingAndGlyphs" stroke="#222" stroke-width="0.3">300k</text>
<text x="202.0" y="352.6" class="ss i" font-size="10.2" fill="#5a5a5a" textLength="51.3" lengthAdjust="spacingAndGlyphs">June 2012:</text>
<text x="201.4" y="371.5" class="ss b" font-size="14.9" fill="#222" textLength="38.5" lengthAdjust="spacingAndGlyphs" stroke="#222" stroke-width="0.45">DACA</text>
<text x="200.9" y="386.0" class="ss b" font-size="14.9" fill="#222" textLength="77.5" lengthAdjust="spacingAndGlyphs" stroke="#222" stroke-width="0.45">announced</text>
<text x="336.4" y="287.1" class="ss i" font-size="10.2" fill="#5a5a5a" textLength="26.3" lengthAdjust="spacingAndGlyphs">2015:</text>
<text x="335.1" y="306.0" class="ss b" font-size="14.9" fill="#222" textLength="95.3" lengthAdjust="spacingAndGlyphs" stroke="#222" stroke-width="0.45">Obama family</text>
<text x="335.1" y="325.6" class="ss b" font-size="14.9" fill="#222" textLength="110.1" lengthAdjust="spacingAndGlyphs" stroke="#222" stroke-width="0.45">detention policy</text>
<text x="425.6" y="356.8" class="ss i" font-size="10.2" fill="#5a5a5a" textLength="45.2" lengthAdjust="spacingAndGlyphs">July 2015:</text>
<text x="428.3" y="371.0" class="ss b" font-size="14.9" fill="#222" textLength="42.1" lengthAdjust="spacingAndGlyphs" stroke="#222" stroke-width="0.45">Flores</text>
<text x="427.8" y="390.2" class="ss b" font-size="14.9" fill="#222" textLength="90.3" lengthAdjust="spacingAndGlyphs" stroke="#222" stroke-width="0.45">reinterpreted</text>
<text x="416.2" y="203.3" class="ss i" font-size="10.2" fill="#5a5a5a" textLength="19.0" lengthAdjust="spacingAndGlyphs">May</text>
<text x="348.9" y="232.7" class="sf b" font-size="17.8" fill="#222" textLength="62.7" lengthAdjust="spacingAndGlyphs" stroke="#222" stroke-width="0.65">TRUMP</text>
<text x="415.7" y="232.7" class="ss b" font-size="14.9" fill="#222" textLength="138.9" lengthAdjust="spacingAndGlyphs" stroke="#222" stroke-width="0.45">Tariff threat leads to</text>
<text x="416.2" y="251.0" class="ss b" font-size="14.9" fill="#222" textLength="146.8" lengthAdjust="spacingAndGlyphs" stroke="#222" stroke-width="0.45">Mexican cooperation</text>
<text x="567.6" y="162.1" class="ss i" font-size="10.2" fill="#5a5a5a" textLength="67.8" lengthAdjust="spacingAndGlyphs">Summer 2019:</text>
<text x="568.1" y="178.8" class="ss b" font-size="14.9" fill="#222" textLength="64.3" lengthAdjust="spacingAndGlyphs" stroke="#222" stroke-width="0.45">New DHS</text>
<text x="568.1" y="198.2" class="ss b" font-size="14.9" fill="#222" textLength="76.0" lengthAdjust="spacingAndGlyphs" stroke="#222" stroke-width="0.45">tools begin</text>
<text x="482.6" y="320.6" class="ss i" font-size="10.2" fill="#5a5a5a" textLength="46.0" lengthAdjust="spacingAndGlyphs">Jan. 2019:</text>
<text x="481.4" y="338.3" class="ss b" font-size="14.9" fill="#222" textLength="82.6" lengthAdjust="spacingAndGlyphs" stroke="#222" stroke-width="0.45">MPP begins</text>
<text x="603.8" y="273.1" class="ss i" font-size="10.2" fill="#5a5a5a" textLength="46.9" lengthAdjust="spacingAndGlyphs">Jan. 2021:</text>
<text x="596.6" y="297.2" class="sf b" font-size="8.4" fill="#c7202b" textLength="32.3" lengthAdjust="spacingAndGlyphs" stroke="#c7202b" stroke-width="0.25">TRUMP</text>
<text x="596.6" y="306.9" class="sf b" font-size="8.4" fill="#c7202b" textLength="61.3" lengthAdjust="spacingAndGlyphs" stroke="#c7202b" stroke-width="0.25">CLAMPDOWN</text>
<text x="596.6" y="315.8" class="sf b" font-size="8.4" fill="#c7202b" textLength="34.3" lengthAdjust="spacingAndGlyphs" stroke="#c7202b" stroke-width="0.25">BEGINS</text>
<text x="846.2" y="248.2" class="ss b" font-size="9.3" fill="#222" textLength="24.7" lengthAdjust="spacingAndGlyphs" stroke="#222" stroke-width="0.3">Minors</text>
<text x="844.2" y="292.4" class="ss b" font-size="9.3" fill="#222" textLength="6.3" lengthAdjust="spacingAndGlyphs" stroke="#222" stroke-width="0.3">In</text>
<text x="843.3" y="302.2" class="ss b" font-size="9.3" fill="#222" textLength="28.5" lengthAdjust="spacingAndGlyphs" stroke="#222" stroke-width="0.3">families</text>
<text x="845.6" y="361.6" class="ss b" font-size="9.3" fill="#222" textLength="20.8" lengthAdjust="spacingAndGlyphs" stroke="#222" stroke-width="0.3">Single</text>
<text x="845.6" y="372.0" class="ss b" font-size="9.3" fill="#222" textLength="21.4" lengthAdjust="spacingAndGlyphs" stroke="#222" stroke-width="0.3">adults</text>
<polygon points="837.3,245.5 841.2,242.8 841.2,248.2" fill="#d02530"/>
<polygon points="837.3,297.7 840.8,295.5 840.8,300" fill="#3563A8"/>
<polygon points="837.3,366.5 840.8,364 840.8,369" fill="#EC971F"/>
<text x="651.7" y="527.6" class="sf b" font-size="11" fill="#c7202b" textLength="123.8" lengthAdjust="spacingAndGlyphs" stroke="#c7202b" stroke-width="0.4">TRUMP LEAVES OFFICE</text>
<text x="651.7" y="535.5" class="sf b" font-size="7" fill="#c7202b" textLength="213.0" lengthAdjust="spacingAndGlyphs" stroke="#c7202b" stroke-width="0.25">LOWEST ILLEGAL IMMIGRATION IN RECORDED HISTORY!</text>
<text x="218.0" y="531.2" class="ss b" font-size="9.8" fill="#333" textLength="356.8" lengthAdjust="spacingAndGlyphs" stroke="#333" stroke-width="0.3">Customs and Border Protection. 2012 figures combine single adults and families.</text>
<text x="184.8" y="512.6" class="ss b" font-size="13.2" fill="#222" textLength="17.9" lengthAdjust="spacingAndGlyphs" stroke="#222" stroke-width="0.45">&#8217;12</text>
<text x="238.9" y="512.6" class="ss b" font-size="13.2" fill="#222" textLength="17.9" lengthAdjust="spacingAndGlyphs" stroke="#222" stroke-width="0.45">&#8217;13</text>
<text x="293.0" y="512.6" class="ss b" font-size="13.2" fill="#222" textLength="17.9" lengthAdjust="spacingAndGlyphs" stroke="#222" stroke-width="0.45">&#8217;14</text>
<text x="347.1" y="512.6" class="ss b" font-size="13.2" fill="#222" textLength="17.9" lengthAdjust="spacingAndGlyphs" stroke="#222" stroke-width="0.45">&#8217;15</text>
<text x="401.2" y="512.6" class="ss b" font-size="13.2" fill="#222" textLength="17.9" lengthAdjust="spacingAndGlyphs" stroke="#222" stroke-width="0.45">&#8217;16</text>
<text x="455.3" y="512.6" class="ss b" font-size="13.2" fill="#222" textLength="17.9" lengthAdjust="spacingAndGlyphs" stroke="#222" stroke-width="0.45">&#8217;17</text>
<text x="509.4" y="512.6" class="ss b" font-size="13.2" fill="#222" textLength="17.9" lengthAdjust="spacingAndGlyphs" stroke="#222" stroke-width="0.45">&#8217;18</text>
<text x="563.5" y="512.6" class="ss b" font-size="13.2" fill="#222" textLength="17.9" lengthAdjust="spacingAndGlyphs" stroke="#222" stroke-width="0.45">&#8217;19</text>
<text x="671.7" y="512.6" class="ss b" font-size="13.2" fill="#222" textLength="17.9" lengthAdjust="spacingAndGlyphs" stroke="#222" stroke-width="0.45">&#8217;21</text>
<text x="725.8" y="512.6" class="ss b" font-size="13.2" fill="#222" textLength="17.9" lengthAdjust="spacingAndGlyphs" stroke="#222" stroke-width="0.45">&#8217;22</text>
<text x="774.1" y="512.6" class="ss b" font-size="13.2" fill="#222" textLength="18.4" lengthAdjust="spacingAndGlyphs" stroke="#222" stroke-width="0.45">&#8217;23</text>
<text x="813.7" y="512.6" class="ss b" font-size="13.2" fill="#222" textLength="17.9" lengthAdjust="spacingAndGlyphs" stroke="#222" stroke-width="0.45">&#8217;24</text>
<g class="ss b" fill="#333" text-anchor="middle">
<text x="196.0" y="498.4" font-size="8">J</text>
<text x="200.4" y="497.4" font-size="3.6">F</text>
<text x="204.7" y="497.4" font-size="3.6">M</text>
<text x="209.1" y="497.4" font-size="3.6">A</text>
<text x="213.5" y="497.4" font-size="3.6">M</text>
<text x="217.8" y="497.4" font-size="3.6">J</text>
<text x="222.2" y="497.4" font-size="3.6">J</text>
<text x="226.6" y="497.4" font-size="3.6">A</text>
<text x="230.9" y="497.4" font-size="3.6">S</text>
<text x="235.3" y="497.4" font-size="3.6">O</text>
<text x="239.7" y="497.4" font-size="3.6">N</text>
<text x="244.0" y="497.4" font-size="3.6">D</text>
<text x="248.4" y="498.4" font-size="8">J</text>
<text x="252.8" y="497.4" font-size="3.6">F</text>
<text x="257.1" y="497.4" font-size="3.6">M</text>
<text x="261.5" y="497.4" font-size="3.6">A</text>
<text x="265.9" y="497.4" font-size="3.6">M</text>
<text x="270.2" y="497.4" font-size="3.6">J</text>
<text x="274.6" y="497.4" font-size="3.6">J</text>
<text x="279.0" y="497.4" font-size="3.6">A</text>
<text x="283.3" y="497.4" font-size="3.6">S</text>
<text x="287.7" y="497.4" font-size="3.6">O</text>
<text x="292.1" y="497.4" font-size="3.6">N</text>
<text x="296.4" y="497.4" font-size="3.6">D</text>
<text x="300.8" y="498.4" font-size="8">J</text>
<text x="305.2" y="497.4" font-size="3.6">F</text>
<text x="309.5" y="497.4" font-size="3.6">M</text>
<text x="313.9" y="497.4" font-size="3.6">A</text>
<text x="318.3" y="497.4" font-size="3.6">M</text>
<text x="322.6" y="497.4" font-size="3.6">J</text>
<text x="327.0" y="497.4" font-size="3.6">J</text>
<text x="331.4" y="497.4" font-size="3.6">A</text>
<text x="335.7" y="497.4" font-size="3.6">S</text>
<text x="340.1" y="497.4" font-size="3.6">O</text>
<text x="344.5" y="497.4" font-size="3.6">N</text>
<text x="348.8" y="497.4" font-size="3.6">D</text>
<text x="353.2" y="498.4" font-size="8">J</text>
<text x="357.6" y="497.4" font-size="3.6">F</text>
<text x="361.9" y="497.4" font-size="3.6">M</text>
<text x="366.3" y="497.4" font-size="3.6">A</text>
<text x="370.7" y="497.4" font-size="3.6">M</text>
<text x="375.0" y="497.4" font-size="3.6">J</text>
<text x="379.4" y="497.4" font-size="3.6">J</text>
<text x="383.8" y="497.4" font-size="3.6">A</text>
<text x="388.1" y="497.4" font-size="3.6">S</text>
<text x="392.5" y="497.4" font-size="3.6">O</text>
<text x="396.9" y="497.4" font-size="3.6">N</text>
<text x="401.2" y="497.4" font-size="3.6">D</text>
<text x="405.6" y="498.4" font-size="8">J</text>
<text x="410.0" y="497.4" font-size="3.6">F</text>
<text x="414.3" y="497.4" font-size="3.6">M</text>
<text x="418.7" y="497.4" font-size="3.6">A</text>
<text x="423.1" y="497.4" font-size="3.6">M</text>
<text x="427.4" y="497.4" font-size="3.6">J</text>
<text x="431.8" y="497.4" font-size="3.6">J</text>
<text x="436.2" y="497.4" font-size="3.6">A</text>
<text x="440.5" y="497.4" font-size="3.6">S</text>
<text x="444.9" y="497.4" font-size="3.6">O</text>
<text x="449.3" y="497.4" font-size="3.6">N</text>
<text x="453.6" y="497.4" font-size="3.6">D</text>
<text x="458.0" y="498.4" font-size="8">J</text>
<text x="462.4" y="497.4" font-size="3.6">F</text>
<text x="466.7" y="497.4" font-size="3.6">M</text>
<text x="471.1" y="497.4" font-size="3.6">A</text>
<text x="475.5" y="497.4" font-size="3.6">M</text>
<text x="479.8" y="497.4" font-size="3.6">J</text>
<text x="484.2" y="497.4" font-size="3.6">J</text>
<text x="488.6" y="497.4" font-size="3.6">A</text>
<text x="492.9" y="497.4" font-size="3.6">S</text>
<text x="497.3" y="497.4" font-size="3.6">O</text>
<text x="501.7" y="497.4" font-size="3.6">N</text>
<text x="506.0" y="497.4" font-size="3.6">D</text>
<text x="510.4" y="498.4" font-size="8">J</text>
<text x="514.8" y="497.4" font-size="3.6">F</text>
<text x="519.1" y="497.4" font-size="3.6">M</text>
<text x="523.5" y="497.4" font-size="3.6">A</text>
<text x="527.9" y="497.4" font-size="3.6">M</text>
<text x="532.2" y="497.4" font-size="3.6">J</text>
<text x="536.6" y="497.4" font-size="3.6">J</text>
<text x="541.0" y="497.4" font-size="3.6">A</text>
<text x="545.3" y="497.4" font-size="3.6">S</text>
<text x="549.7" y="497.4" font-size="3.6">O</text>
<text x="554.1" y="497.4" font-size="3.6">N</text>
<text x="558.4" y="497.4" font-size="3.6">D</text>
<text x="562.8" y="498.4" font-size="8">J</text>
<text x="567.2" y="497.4" font-size="3.6">F</text>
<text x="571.5" y="497.4" font-size="3.6">M</text>
<text x="575.9" y="497.4" font-size="3.6">A</text>
<text x="580.3" y="497.4" font-size="3.6">M</text>
<text x="584.6" y="497.4" font-size="3.6">J</text>
<text x="589.0" y="497.4" font-size="3.6">J</text>
<text x="593.4" y="497.4" font-size="3.6">A</text>
<text x="597.7" y="497.4" font-size="3.6">S</text>
<text x="602.1" y="497.4" font-size="3.6">O</text>
<text x="606.5" y="497.4" font-size="3.6">N</text>
<text x="610.8" y="497.4" font-size="3.6">D</text>
<text x="615.2" y="498.4" font-size="8">J</text>
<text x="619.6" y="497.4" font-size="3.6">F</text>
<text x="623.9" y="497.4" font-size="3.6">M</text>
<text x="628.3" y="497.4" font-size="3.6">A</text>
<text x="632.7" y="497.4" font-size="3.6">M</text>
<text x="637.1" y="497.4" font-size="3.6">J</text>
<text x="641.4" y="497.4" font-size="3.6">J</text>
<text x="645.8" y="497.4" font-size="3.6">A</text>
<text x="650.2" y="497.4" font-size="3.6">S</text>
<text x="654.5" y="497.4" font-size="3.6">O</text>
<text x="658.9" y="497.4" font-size="3.6">N</text>
<text x="663.3" y="497.4" font-size="3.6">D</text>
<text x="667.6" y="498.4" font-size="8">J</text>
<text x="672.0" y="497.4" font-size="3.6">F</text>
<text x="676.4" y="497.4" font-size="3.6">M</text>
<text x="680.7" y="497.4" font-size="3.6">A</text>
<text x="685.1" y="497.4" font-size="3.6">M</text>
<text x="689.5" y="497.4" font-size="3.6">J</text>
<text x="693.8" y="497.4" font-size="3.6">J</text>
<text x="698.2" y="497.4" font-size="3.6">A</text>
<text x="702.6" y="497.4" font-size="3.6">S</text>
<text x="706.9" y="497.4" font-size="3.6">O</text>
<text x="711.3" y="497.4" font-size="3.6">N</text>
<text x="715.7" y="497.4" font-size="3.6">D</text>
<text x="720.0" y="498.4" font-size="8">J</text>
<text x="724.4" y="497.4" font-size="3.6">F</text>
<text x="728.8" y="497.4" font-size="3.6">M</text>
<text x="733.3" y="497.4" font-size="3.6">A</text>
<text x="737.7" y="497.4" font-size="3.6">M</text>
<text x="742.1" y="497.4" font-size="3.6">J</text>
<text x="746.6" y="497.4" font-size="3.6">J</text>
<text x="751.0" y="497.4" font-size="3.6">A</text>
<text x="755.5" y="497.4" font-size="3.6">S</text>
<text x="759.9" y="497.4" font-size="3.6">O</text>
<text x="764.3" y="497.4" font-size="3.6">N</text>
<text x="768.8" y="497.4" font-size="3.6">D</text>
<text x="773.2" y="498.4" font-size="8">J</text>
<text x="777.7" y="497.4" font-size="3.6">F</text>
<text x="782.1" y="497.4" font-size="3.6">M</text>
<text x="786.5" y="497.4" font-size="3.6">A</text>
<text x="791.0" y="497.4" font-size="3.6">M</text>
<text x="795.4" y="497.4" font-size="3.6">J</text>
<text x="799.9" y="497.4" font-size="3.6">J</text>
<text x="804.3" y="497.4" font-size="3.6">A</text>
<text x="809.0" y="497.4" font-size="3.6">S</text>
<text x="813.8" y="497.4" font-size="3.6">O</text>
<text x="818.4" y="497.4" font-size="3.6">N</text>
<text x="823.1" y="497.4" font-size="3.6">D</text>
<text x="827.8" y="498.4" font-size="8">J</text>
<text x="832.5" y="497.4" font-size="3.6">F</text>
</g>
<polygon points="215.9,392.2 215.9,405.5 212.8,405.5 217.6,415.0 222.4,405.5 219.3,405.5 219.3,392.2" fill="#4fa533"/>
<polygon points="351.5,353.7 351.5,407.5 348.4,407.5 353.2,417.0 358.0,407.5 354.9,407.5 354.9,353.7" fill="#4fa533"/>
<polygon points="423.4,383.5 386.3,410.8 384.5,408.3 379.7,417.8 390.2,416.0 388.4,413.5 425.4,386.3" fill="#4fa533"/>
<polygon points="596.0,208.4 591.5,255.4 588.4,255.1 592.3,265.0 598.0,256.0 594.9,255.7 599.4,208.8" fill="#4fa533"/>
<polygon points="537.9,266.9 566.6,289.9 564.7,292.3 575.1,294.5 570.7,284.8 568.7,287.2 540.1,264.3" fill="#4fa533"/>
<polygon points="539.5,350.4 553.2,390.2 550.3,391.2 557.9,398.6 559.3,388.1 556.4,389.1 542.7,349.2" fill="#4fa533"/>
<polygon points="748.3,71.7 793.5,71.7 793.5,64.2 813.4,76.9 793.5,89.5 793.5,83 748.3,83" fill="#0a0a0a"/>
<defs><linearGradient id="rg1" gradientUnits="userSpaceOnUse" x1="650" y1="325" x2="598" y2="370"><stop offset="0" stop-color="#dc6264"/><stop offset="0.5" stop-color="#d03a40"/><stop offset="1" stop-color="#bf1a25"/></linearGradient>
<linearGradient id="rg2" gradientUnits="userSpaceOnUse" x1="0" y1="490" x2="0" y2="538"><stop offset="0" stop-color="#c4141f"/><stop offset="0.4" stop-color="#d23a42"/><stop offset="1" stop-color="#e68e90"/></linearGradient></defs>
<path d="M597.5,370.9 L599.8,330.8 L609.5,341.2 L634.9,320.1 Q638.5,317.8 642,322.4 L655,337.3 L629,362 L637.5,373.1 Z" fill="url(#rg1)"/>
<polygon points="631.1,489.9 653.2,512.6 643.2,512.6 643.2,560 619.8,560 619.8,512.6 608.6,512.6" fill="url(#rg2)"/>
</g></svg></body></html>
